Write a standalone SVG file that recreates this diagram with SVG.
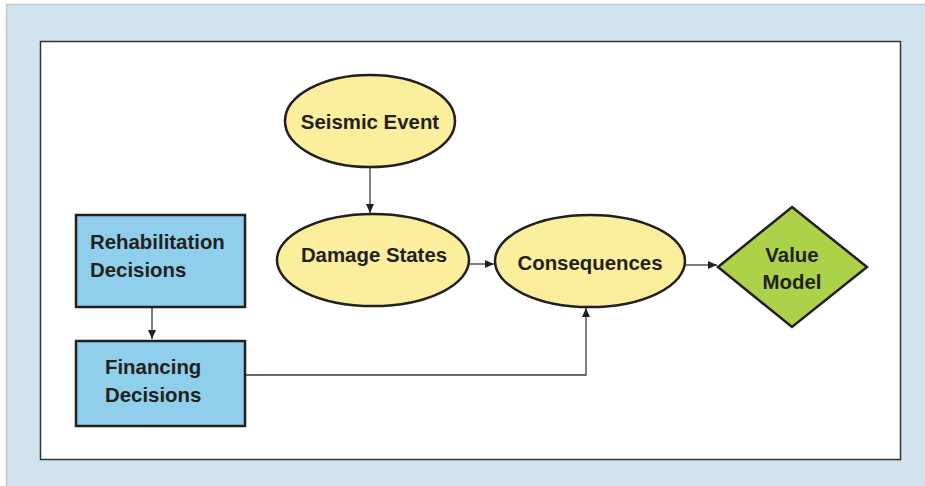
<svg xmlns="http://www.w3.org/2000/svg" width="925" height="486" viewBox="0 0 925 486">
  <style>
    .lbl { font-family: "Liberation Sans", Arial, sans-serif; font-weight: bold; font-size: 20.4px; fill: #231f20; }
    .mid { text-anchor: middle; }
    .rect { fill: #8fcfeb; stroke: #231f20; stroke-width: 2.5; }
    .oval { fill: #fbee9c; stroke: #231f20; stroke-width: 2.5; }
    .dia { fill: #add149; stroke: #231f20; stroke-width: 2.5; }
    .edge { fill: none; stroke: #3a3a3a; stroke-width: 1.3; }
  </style>
  <defs>
    <marker id="arrow" markerWidth="10" markerHeight="10" refX="9" refY="5" orient="auto" markerUnits="userSpaceOnUse">
      <path d="M0,1 L9,5 L0,9 Z" fill="#231f20"/>
    </marker>
  </defs>

  <!-- page frame -->
  <rect x="0" y="0" width="925" height="486" fill="#ffffff"/>
  <rect x="6" y="4" width="919" height="482" fill="#d0e3ee"/>
  <path d="M6.5,486 V4.5 H925" fill="none" stroke="#c8c8c8" stroke-width="1.5"/>
  <rect x="40.5" y="41.5" width="860" height="418" fill="#ffffff" stroke="#333333" stroke-width="1.5"/>

  <!-- connectors -->
  <g id="connectors">
    <line class="edge" x1="152" y1="308" x2="152" y2="339" marker-end="url(#arrow)"/>
    <line class="edge" x1="370" y1="168" x2="370" y2="213" marker-end="url(#arrow)"/>
    <line class="edge" x1="470" y1="264" x2="494" y2="264" marker-end="url(#arrow)"/>
    <line class="edge" x1="686" y1="265" x2="717" y2="265" marker-end="url(#arrow)"/>
    <polyline class="edge" points="246,375 586,375 586,308" marker-end="url(#arrow)"/>
  </g>

  <g id="rehabilitation-decisions">
    <rect class="rect" x="76" y="215" width="169" height="92"/>
    <text class="lbl" x="90" y="249">Rehabilitation</text>
    <text class="lbl" x="90" y="277">Decisions</text>
  </g>

  <g id="financing-decisions">
    <rect class="rect" x="76" y="341" width="169" height="85"/>
    <text class="lbl" x="105" y="374">Financing</text>
    <text class="lbl" x="105" y="402">Decisions</text>
  </g>

  <g id="seismic-event">
    <ellipse class="oval" cx="370" cy="121" rx="85" ry="46"/>
    <text class="lbl mid" x="370" y="129">Seismic Event</text>
  </g>

  <g id="damage-states">
    <ellipse class="oval" cx="373" cy="260" rx="96" ry="46"/>
    <text class="lbl mid" x="374" y="262">Damage States</text>
  </g>

  <g id="consequences">
    <ellipse class="oval" cx="590" cy="261" rx="95" ry="46"/>
    <text class="lbl mid" x="590" y="270">Consequences</text>
  </g>

  <g id="value-model">
    <polygon class="dia" points="792,207 867,267 792,327 718,267"/>
    <text class="lbl mid" x="792" y="262">Value</text>
    <text class="lbl mid" x="792" y="289">Model</text>
  </g>
</svg>
